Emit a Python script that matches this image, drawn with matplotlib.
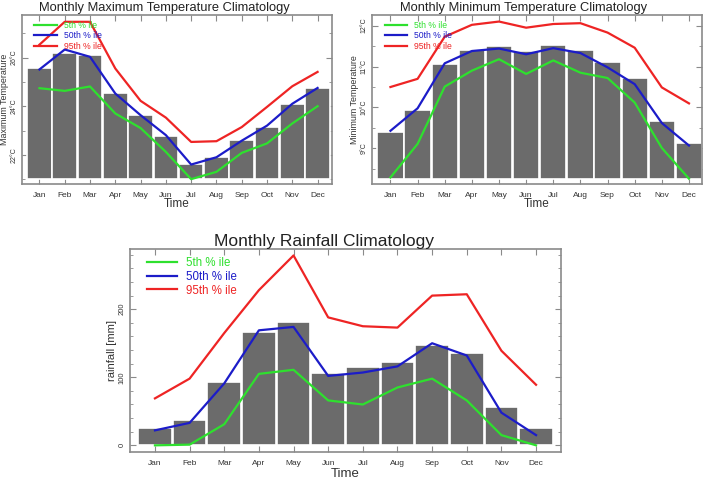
import matplotlib
matplotlib.use("Agg")
from matplotlib import pyplot as plt
from matplotlib.ticker import MultipleLocator
import numpy as np

plt.rcParams['font.family'] = ['Liberation Sans', 'DejaVu Sans']

months = ['Jan', 'Feb', 'Mar', 'Apr', 'May', 'Jun', 'Jul', 'Aug', 'Sep', 'Oct', 'Nov', 'Dec']

# maximum temperature (deg C)
tmax_bar = [25.55, 26.2, 26.1, 24.56, 23.64, 22.77, 21.64, 21.93, 22.6, 23.16, 24.07, 24.73]
tmax_p5 = [24.74, 24.63, 24.81, 23.7, 23.1, 22.12, 21.0, 21.3, 22.08, 22.47, 23.29, 24.0]
tmax_p50 = [25.51, 26.33, 26.03, 24.52, 23.63, 22.81, 21.6, 21.9, 22.58, 23.2, 24.1, 24.75]
tmax_p95 = [26.53, 27.47, 27.47, 25.55, 24.22, 23.53, 22.53, 22.56, 23.14, 23.97, 24.82, 25.41]

# minimum temperature (deg C)
tmin_bar = [9.39, 9.95, 11.07, 11.41, 11.5, 11.39, 11.52, 11.4, 11.11, 10.71, 9.66, 9.13]
tmin_p5 = [8.29, 9.11, 10.51, 10.9, 11.18, 10.82, 11.15, 10.85, 10.72, 10.12, 9.01, 8.26]
tmin_p50 = [9.43, 9.98, 11.08, 11.38, 11.44, 11.3, 11.45, 11.33, 10.98, 10.57, 9.62, 9.07]
tmin_p95 = [10.5, 10.7, 11.73, 12.02, 12.1, 11.95, 12.04, 12.06, 11.83, 11.46, 10.49, 10.1]

# rainfall (mm)
rain_bar = [25, 37, 93, 166, 181, 107, 115, 123, 148, 136, 56, 25]
rain_p5 = [0, 1, 31, 105, 111, 66, 60, 85, 98, 66, 15, 0]
rain_p50 = [22, 33, 91, 169, 174, 102, 107, 116, 150, 132, 48, 15]
rain_p95 = [69, 98, 165, 228, 279, 188, 175, 173, 220, 222, 139, 89]

BAR_COLOR = '#6b6b6b'
GREEN = '#2ee02e'
BLUE = '#1c1cc8'
RED = '#ee2424'
FRAME = '#8a8a8a'

W, H = 709, 479
fig = plt.figure(figsize=(W / 100, H / 100), dpi=100)


def px_axes(left, top, right, bottom):
    return fig.add_axes([left / W, 1 - bottom / H, (right - left) / W, (bottom - top) / H])


def panel(ax, bars, p5, p50, p95, base, ylim, xlim, title, ylabel,
          yticks, yticklabels, minor, title_x=0.5, title_size=9.3, title_pad=3,
          leg_size=6.2, handle_len=2.6, xl_size=8.5, ytl_size=5.0,
          ylabel_size=6.4, xlabel_y=-0.08):
    x = np.arange(len(months))
    ax.bar(x, np.array(bars) - base, bottom=base, width=0.97,
           color=BAR_COLOR, edgecolor='white', linewidth=1.2, zorder=2)
    ax.plot(x, p5, color=GREEN, lw=1.6, label='5th % ile', zorder=3)
    ax.plot(x, p50, color=BLUE, lw=1.6, label='50th % ile', zorder=3)
    ax.plot(x, p95, color=RED, lw=1.6, label='95th % ile', zorder=3)
    ax.set_xlim(*xlim)
    ax.set_ylim(*ylim)
    ax.set_xticks(x)
    ax.set_xticklabels(months, fontsize=6, color='#333333')
    ax.set_yticks(yticks)
    ax.set_yticklabels(yticklabels, fontsize=ytl_size, rotation=90, va='center', color='#333333')
    ax.yaxis.set_minor_locator(MultipleLocator(minor))
    ax.tick_params(which='both', direction='in', top=True, right=True, color=FRAME)
    ax.tick_params(which='major', length=4, width=0.8)
    ax.tick_params(which='minor', length=2, width=0.6)
    ax.tick_params(axis='x', pad=6)
    ax.tick_params(axis='y', pad=3)
    for s in ax.spines.values():
        s.set_color(FRAME)
        s.set_linewidth(1.2)
    ax.set_title(title, fontsize=title_size, x=title_x, pad=title_pad, color='#222222')
    ax.set_xlabel('Time', fontsize=xl_size, color='#333333')
    ax.xaxis.set_label_coords(0.5, xlabel_y)
    ax.set_ylabel(ylabel, fontsize=ylabel_size, labelpad=1, color='#333333')
    ax.legend(loc='upper left', frameon=False, fontsize=leg_size, labelcolor='linecolor',
              handlelength=handle_len, handletextpad=0.8, labelspacing=0.15,
              borderaxespad=0.3, bbox_to_anchor=(0.02, 1.0))


ax1 = px_axes(22, 15, 332, 184)
panel(ax1, tmax_bar, tmax_p5, tmax_p50, tmax_p95, 21.0, (20.8, 27.75), (-0.69, 11.57),
      'Monthly Maximum Temperature Climatology', 'Maximum Temperature',
      [22, 24, 26], ['22\u00b0C', '24\u00b0C', '26\u00b0C'], 1.0, title_x=0.46,
      xlabel_y=-0.085)

ax2 = px_axes(372, 15, 702, 184)
panel(ax2, tmin_bar, tmin_p5, tmin_p50, tmin_p95, 8.26, (8.13, 12.26), (-0.68, 11.48),
      'Monthly Minimum Temperature Climatology', 'Minimum Temperature',
      [9, 10, 11, 12], ['9\u00b0C', '10\u00b0C', '11\u00b0C', '12\u00b0C'], 0.5, title_x=0.46,
      xlabel_y=-0.085)

ax3 = px_axes(130, 249, 561, 452)
panel(ax3, rain_bar, rain_p5, rain_p50, rain_p95, 0, (-9.8, 288.5), (-0.72, 11.72),
      'Monthly Rainfall Climatology', 'rainfall [mm]',
      [0, 100, 200], ['0', '100', '200'], 20, title_x=0.45, title_size=12.5, title_pad=2,
      leg_size=8.3, handle_len=2.6, xl_size=9.5, ytl_size=5.5, ylabel_size=8,
      xlabel_y=-0.08)

fig.savefig('out.png', dpi=100)
